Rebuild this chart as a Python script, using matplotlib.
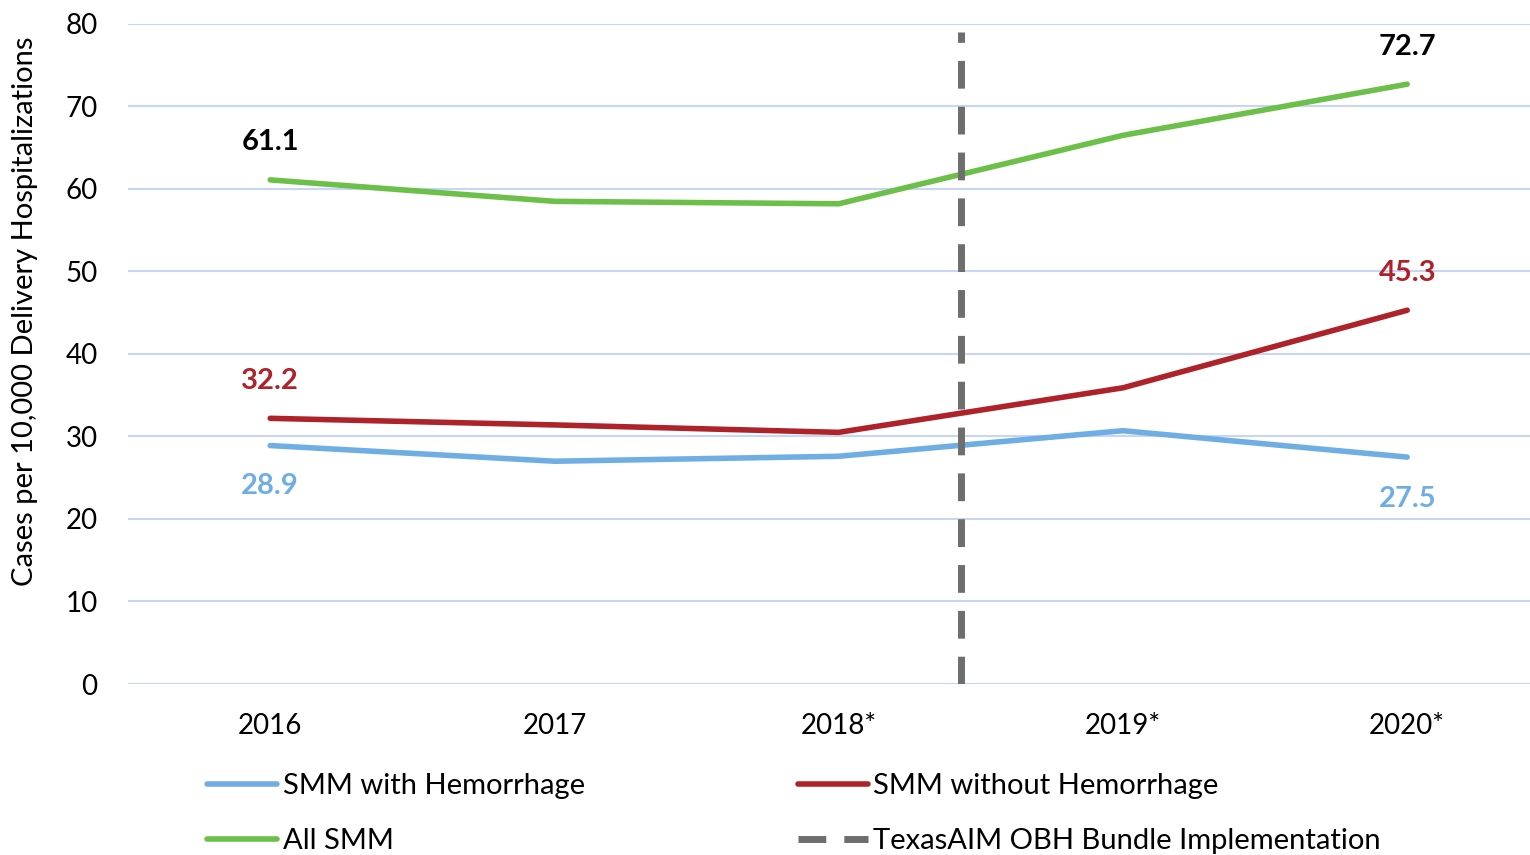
import matplotlib.pyplot as plt

plt.rcParams['font.family'] = ['Lato', 'DejaVu Sans']

# data
years = ['2016', '2017', '2018*', '2019*', '2020*']
with_hem = [28.9, 27.0, 27.6, 30.7, 27.5]
without_hem = [32.2, 31.4, 30.5, 35.9, 45.3]
all_smm = [61.1, 58.5, 58.2, 66.5, 72.7]
bundle_x = 2.43

BLUE = '#6FAEE3'
RED = '#AE2229'
GREEN = '#6CC04A'
GRAY = '#6E6E6E'

fig = plt.figure(figsize=(15.3, 8.55), dpi=100)
ax = fig.add_axes([0.0837, 0.2, 0.9163, 0.772])

x = range(len(years))
ax.plot(x, with_hem, color=BLUE, lw=4, solid_capstyle='round', label='SMM with Hemorrhage')
ax.plot(x, without_hem, color=RED, lw=4, solid_capstyle='round', label='SMM without Hemorrhage')
ax.plot(x, all_smm, color=GREEN, lw=4, solid_capstyle='round', label='All SMM')
ax.plot([bundle_x, bundle_x], [0, 79], color=GRAY, lw=5, dashes=(4, 2.6),
        label='TexasAIM OBH Bundle Implementation')

ax.set_xlim(-0.5, 4.432)
ax.set_ylim(0, 80)
ax.set_yticks(range(0, 81, 10))
ax.set_xticks(list(x))
ax.set_xticklabels(years)
ax.grid(axis='y', color='#C9D5F5', lw=1.5)
ax.set_axisbelow(True)
for s in ax.spines.values():
    s.set_visible(False)
ax.tick_params(length=0, labelsize=20, colors='black')
ax.tick_params(axis='y', pad=22)
ax.tick_params(axis='x', pad=21)
ax.set_ylabel('Cases per 10,000 Delivery Hospitalizations', fontsize=21)
ax.yaxis.set_label_coords(-0.064, 0.564)

# end-point labels
lab = dict(ha='center', fontsize=21, fontweight='bold', textcoords='offset points')
ax.annotate(f'{all_smm[0]}', (0, all_smm[0]), xytext=(0, 27), va='center', color='black', **lab)
ax.annotate(f'{all_smm[-1]}', (4, all_smm[-1]), xytext=(0, 27), va='center', color='black', **lab)
ax.annotate(f'{without_hem[0]}', (0, without_hem[0]), xytext=(0, 27), va='center', color=RED, **lab)
ax.annotate(f'{without_hem[-1]}', (4, without_hem[-1]), xytext=(0, 27), va='center', color=RED, **lab)
ax.annotate(f'{with_hem[0]}', (0, with_hem[0]), xytext=(0, -29), va='center', color=BLUE, **lab)
ax.annotate(f'{with_hem[-1]}', (4, with_hem[-1]), xytext=(0, -30), va='center', color=BLUE, **lab)

h, l = ax.get_legend_handles_labels()
order = [0, 2, 1, 3]
fig.legend([h[i] for i in order], [l[i] for i in order], ncol=2, frameon=False,
           fontsize=21, handlelength=2.4, handletextpad=0.2, columnspacing=7.3,
           labelspacing=1.0, loc='lower left', bbox_to_anchor=(0.118, -0.03))

fig.savefig('out.png', dpi=100)
